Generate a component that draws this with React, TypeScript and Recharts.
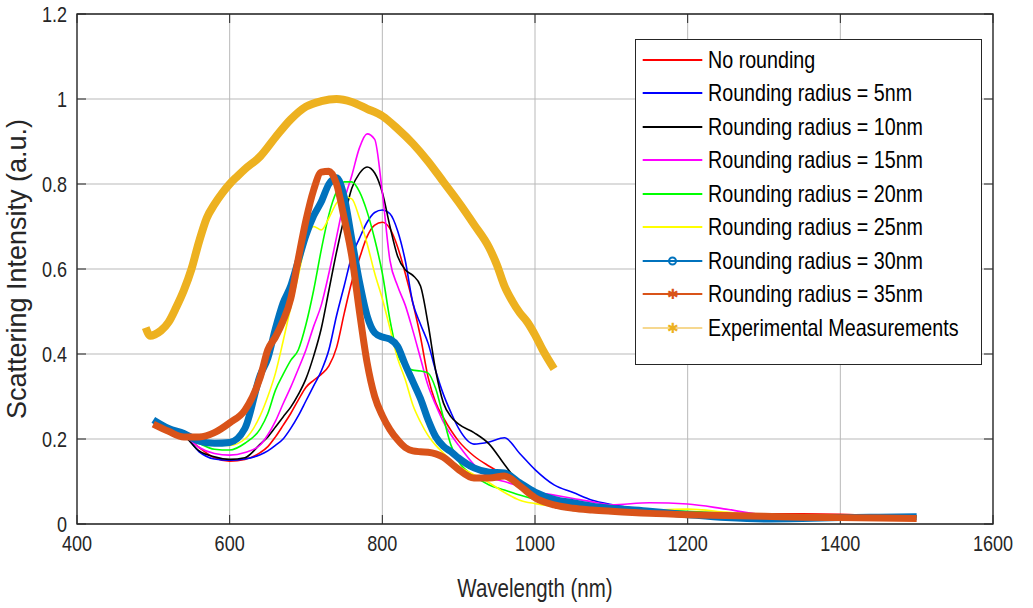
import {
  LineChart,
  Line,
  XAxis,
  YAxis,
  CartesianGrid,
  Legend,
  ReferenceArea,
  ReferenceLine,
} from "recharts"

// simulated spectra share one wavelength grid (nm)
const wavelengths = [
  500, 520, 540, 560, 580, 600, 620, 640,
  650, 660, 670, 680, 690, 700, 710, 720, 730, 740, 750, 760, 770, 780, 790, 800,
  810, 820, 830, 840, 850, 860, 870, 880, 890, 900,
  920, 940, 960, 980, 1000,
  1025, 1050, 1075, 1100,
  1150, 1200, 1250, 1300, 1350, 1400, 1450, 1500,
]

const noRounding = [
  0.24, 0.222, 0.21, 0.18, 0.156, 0.148, 0.152, 0.168,
  0.182, 0.205, 0.232, 0.26, 0.292, 0.322, 0.338, 0.352, 0.372, 0.415, 0.495, 0.57, 0.625, 0.676, 0.703, 0.71,
  0.695, 0.652, 0.59, 0.52, 0.44, 0.345, 0.285, 0.25, 0.22, 0.195,
  0.16, 0.136, 0.115, 0.09, 0.068,
  0.052, 0.043, 0.038, 0.034,
  0.03, 0.027, 0.025, 0.024, 0.024, 0.023, 0.02, 0.018,
]

const radius5 = [
  0.24, 0.222, 0.21, 0.17, 0.153, 0.15, 0.153, 0.163,
  0.172, 0.185, 0.2, 0.225, 0.255, 0.29, 0.325, 0.36, 0.41, 0.49, 0.56, 0.63, 0.672, 0.71, 0.733, 0.739,
  0.73, 0.69, 0.62, 0.52, 0.47, 0.425, 0.36, 0.305, 0.262, 0.225,
  0.188, 0.193, 0.203, 0.166, 0.128,
  0.092, 0.074, 0.056, 0.046,
  0.033, 0.027, 0.023, 0.021, 0.02, 0.019, 0.018, 0.017,
]

const radius10 = [
  0.24, 0.222, 0.208, 0.172, 0.158, 0.152, 0.156, 0.188,
  0.205, 0.228, 0.252, 0.275, 0.305, 0.342, 0.395, 0.46, 0.55, 0.64, 0.72, 0.79, 0.825, 0.84, 0.826, 0.78,
  0.7, 0.63, 0.598, 0.585, 0.56, 0.47, 0.36, 0.285, 0.252, 0.235,
  0.215, 0.188, 0.14, 0.095, 0.066,
  0.05, 0.042, 0.038, 0.034,
  0.03, 0.028, 0.024, 0.022, 0.021, 0.02, 0.019, 0.018,
]

const radius15 = [
  0.24, 0.222, 0.21, 0.18, 0.166, 0.162, 0.168, 0.186,
  0.21, 0.242, 0.283, 0.322, 0.365, 0.41, 0.465, 0.515, 0.59, 0.675, 0.76, 0.82, 0.885, 0.918, 0.905, 0.78,
  0.62, 0.56, 0.515, 0.455, 0.39, 0.325, 0.28, 0.24, 0.21, 0.185,
  0.14, 0.11, 0.1, 0.088, 0.076,
  0.068, 0.06, 0.052, 0.045,
  0.05, 0.047, 0.035, 0.022, 0.02, 0.019, 0.018, 0.017,
]

const radius20 = [
  0.24, 0.222, 0.21, 0.19, 0.176, 0.174, 0.19, 0.224,
  0.26, 0.315, 0.352, 0.385, 0.41, 0.47, 0.55, 0.645, 0.728, 0.782, 0.805, 0.805, 0.782, 0.735, 0.67, 0.59,
  0.48, 0.4, 0.37, 0.362, 0.36, 0.355, 0.318, 0.25, 0.185, 0.147,
  0.113, 0.092, 0.08, 0.068, 0.058,
  0.048, 0.042, 0.038, 0.036,
  0.033, 0.03, 0.025, 0.021, 0.02, 0.019, 0.018, 0.017,
]

const radius25 = [
  0.24, 0.222, 0.21, 0.196, 0.188, 0.185, 0.2, 0.255,
  0.3, 0.355, 0.43, 0.51, 0.585, 0.665, 0.7, 0.692, 0.72, 0.755, 0.77, 0.765, 0.72, 0.66, 0.59, 0.53,
  0.46, 0.39, 0.34, 0.28, 0.24, 0.208, 0.185, 0.167, 0.15, 0.136,
  0.116, 0.097, 0.074, 0.056, 0.048,
  0.042, 0.038, 0.035, 0.034,
  0.033, 0.035, 0.028, 0.02, 0.019, 0.018, 0.017, 0.016,
]

const radius30 = [
  0.245, 0.225, 0.213, 0.195, 0.19, 0.192, 0.225, 0.35,
  0.39, 0.46, 0.52, 0.56, 0.62, 0.68, 0.725, 0.758, 0.8, 0.815, 0.77, 0.67, 0.57, 0.49, 0.45, 0.44,
  0.435, 0.418, 0.375, 0.335, 0.295, 0.245, 0.205, 0.183, 0.17, 0.155,
  0.132, 0.122, 0.12, 0.097, 0.075,
  0.058, 0.05, 0.042, 0.037,
  0.03, 0.022, 0.015, 0.012, 0.013, 0.015, 0.016, 0.017,
]

const radius35 = [
  0.235, 0.218, 0.205, 0.205, 0.215, 0.238, 0.268, 0.345,
  0.41, 0.44, 0.478, 0.53, 0.625, 0.715, 0.786, 0.828, 0.83, 0.8, 0.72, 0.63, 0.5, 0.38, 0.3, 0.255,
  0.222, 0.198, 0.18, 0.172, 0.17, 0.169, 0.165, 0.157, 0.143, 0.128,
  0.108, 0.108, 0.113, 0.09, 0.062,
  0.045, 0.037, 0.033, 0.03,
  0.025, 0.022, 0.02, 0.018, 0.016, 0.015, 0.014, 0.013,
]

// experimental measurement has its own wavelength sampling
const expWavelengths = [
  490, 496, 502, 510, 520, 530, 540, 550, 560, 570, 580, 590, 600, 610, 620, 640, 660, 680,
  700, 720, 740, 760, 780, 800, 820, 840, 860, 880, 900, 920, 940, 950, 960, 970, 980, 990,
  1000, 1010, 1025,
]
const expIntensity = [
  0.462, 0.443, 0.446, 0.455, 0.475, 0.51, 0.55, 0.6, 0.665, 0.72, 0.752, 0.778, 0.8, 0.818, 0.835, 0.865, 0.91, 0.952,
  0.982, 0.995, 1.0, 0.993, 0.977, 0.96, 0.93, 0.895, 0.853, 0.805, 0.757, 0.705, 0.65, 0.61, 0.56, 0.525, 0.497, 0.475,
  0.445, 0.41, 0.365,
]

const seriesLabels = [
  "No rounding",
  "Rounding radius = 5nm",
  "Rounding radius = 10nm",
  "Rounding radius = 15nm",
  "Rounding radius = 20nm",
  "Rounding radius = 25nm",
  "Rounding radius = 30nm",
  "Rounding radius = 35nm",
  "Experimental Measurements",
]

const xTicks = [400, 600, 800, 1000, 1200, 1400, 1600]
const yTicks = [0, 0.2, 0.4, 0.6, 0.8, 1, 1.2]

const simSeries = [noRounding, radius5, radius10, radius15, radius20, radius25, radius30, radius35]
const simKeys = ["r0", "r5", "r10", "r15", "r20", "r25", "r30", "r35"]

const simTable = wavelengths.map((w, i) => {
  const row: Record<string, number> = { w }
  simKeys.forEach((k, j) => {
    row[k] = simSeries[j][i]
  })
  return row
})

const expTable = expWavelengths.map((w, i) => ({ w, exp: expIntensity[i] }))

// drawing styles, in legend order
const styles = [
  { key: "r0", color: "#ff0000", width: 1.6, legendWidth: 2, marker: "none" },
  { key: "r5", color: "#0000ff", width: 1.6, legendWidth: 2, marker: "none" },
  { key: "r10", color: "#000000", width: 1.6, legendWidth: 2, marker: "none" },
  { key: "r15", color: "#ff00ff", width: 1.6, legendWidth: 2, marker: "none" },
  { key: "r20", color: "#00ff00", width: 1.6, legendWidth: 2, marker: "none" },
  { key: "r25", color: "#ffff00", width: 1.6, legendWidth: 2, marker: "none" },
  { key: "r30", color: "#0072bd", width: 7, legendWidth: 2, marker: "circle" },
  { key: "r35", color: "#d95319", width: 7, legendWidth: 2, marker: "star" },
  { key: "exp", color: "#edb120", width: 8, legendWidth: 1, marker: "star" },
]

const FONT = "'Liberation Sans', Arial, Helvetica, sans-serif"
const SQUEEZE = 0.82 // the reference's horizontal text is condensed
const INK = "#262626"

const X_TICK_LEN = (1200 * 9) / 916
const Y_TICK_LEN = (1.2 * 9) / 510

const XTick = ({ x, y, payload }: any) => (
  <g transform={`translate(${x},${y})`}>
    <text transform={`scale(${SQUEEZE},1)`} textAnchor="middle" dy="0.71em" fontSize={22} fill={INK} fontFamily={FONT}>
      {payload.value}
    </text>
  </g>
)

const YTick = ({ x, y, payload }: any) => (
  <g transform={`translate(${x},${y})`}>
    <text transform={`scale(${SQUEEZE},1)`} textAnchor="end" dy="0.355em" fontSize={22} fill={INK} fontFamily={FONT}>
      {String(Math.round(payload.value * 10) / 10)}
    </text>
  </g>
)

const XLabel = ({ viewBox }: any) => {
  const cx = viewBox.x + viewBox.width / 2
  const by = viewBox.y + viewBox.height - 11
  return (
    <g transform={`translate(${cx},${by})`}>
      <text transform={`scale(${SQUEEZE},1)`} textAnchor="middle" fontSize={25} fill={INK} fontFamily={FONT}>
        Wavelength (nm)
      </text>
    </g>
  )
}

function LegendBox() {
  return (
    <div
      style={{
        width: 347,
        height: 326,
        boxSizing: "border-box",
        border: "1px solid #262626",
        background: "#ffffff",
        paddingTop: 3,
        fontFamily: FONT,
        fontSize: 24,
        color: "#000",
      }}
    >
      {styles.map((s, i) => (
        <div key={s.key} style={{ display: "flex", alignItems: "center", height: 33.5, whiteSpace: "nowrap" }}>
          <svg width={72} height={20} style={{ flex: "none" }}>
            <line x1={6.7} x2={66.3} y1={10} y2={10} stroke={s.color} strokeWidth={s.legendWidth} />
            {s.marker === "circle" && (
              <circle cx={36.5} cy={10} r={3.5} fill="none" stroke={s.color} strokeWidth={2} />
            )}
            {s.marker === "star" && (
              <text x={36.5} y={15} textAnchor="middle" fontSize={14} fill={s.color} fontFamily={FONT}>
                ✱
              </text>
            )}
          </svg>
          <span
            style={{
              display: "inline-block",
              lineHeight: "24px",
              transform: `scaleX(${SQUEEZE})`,
              transformOrigin: "left center",
            }}
          >
            {seriesLabels[i]}
          </span>
        </div>
      ))}
    </div>
  )
}

export default function App() {
  return (
    <div style={{ position: "absolute", left: 0, top: 0, width: 1033, height: 608, background: "#ffffff" }}>
      <LineChart
        width={1033}
        height={608}
        data={simTable}
        margin={{ top: 14, right: 40, bottom: 0, left: 0 }}
      >
        <CartesianGrid stroke="#b9b9b9" strokeWidth={1} />
        <XAxis
          dataKey="w"
          type="number"
          domain={[400, 1600]}
          ticks={xTicks}
          height={84}
          axisLine={false}
          tickLine={false}
          tickSize={0}
          tickMargin={11}
          tick={<XTick />}
          label={<XLabel />}
        />
        <YAxis
          type="number"
          domain={[0, 1.2]}
          ticks={yTicks}
          width={77}
          axisLine={false}
          tickLine={false}
          tickSize={0}
          tickMargin={10}
          tick={<YTick />}
          label={{
            value: "Scattering Intensity (a.u.)",
            angle: -90,
            position: "insideLeft",
            offset: 16,
            style: { textAnchor: "middle", fontSize: 27, fill: INK, fontFamily: FONT },
          }}
        />
        {xTicks.map((t) => (
          <ReferenceLine
            key={"xb" + t}
            segment={[{ x: t, y: 0 }, { x: t, y: Y_TICK_LEN }]}
            stroke={INK}
            ifOverflow="visible"
          />
        ))}
        {xTicks.map((t) => (
          <ReferenceLine
            key={"xt" + t}
            segment={[{ x: t, y: 1.2 }, { x: t, y: 1.2 - Y_TICK_LEN }]}
            stroke={INK}
            ifOverflow="visible"
          />
        ))}
        {yTicks.map((t) => (
          <ReferenceLine
            key={"yl" + t}
            segment={[{ x: 400, y: t }, { x: 400 + X_TICK_LEN, y: t }]}
            stroke={INK}
            ifOverflow="visible"
          />
        ))}
        {yTicks.map((t) => (
          <ReferenceLine
            key={"yr" + t}
            segment={[{ x: 1600, y: t }, { x: 1600 - X_TICK_LEN, y: t }]}
            stroke={INK}
            ifOverflow="visible"
          />
        ))}
        {styles.slice(0, 8).map((s) => (
          <Line
            key={s.key}
            type="monotone"
            dataKey={s.key}
            stroke={s.color}
            strokeWidth={s.width}
            dot={false}
            activeDot={false}
            isAnimationActive={false}
          />
        ))}
        <Line
          data={expTable}
          type="monotone"
          dataKey="exp"
          stroke="#edb120"
          strokeWidth={8}
          dot={false}
          activeDot={false}
          isAnimationActive={false}
        />
        <ReferenceArea
          x1={400}
          x2={1600}
          y1={0}
          y2={1.2}
          fill="none"
          stroke={INK}
          strokeWidth={1.3}
          ifOverflow="visible"
        />
        <Legend
          layout="horizontal"
          verticalAlign="middle"
          align="center"
          content={<LegendBox />}
          wrapperStyle={{ left: 635, top: 39, width: 347, height: 326 }}
        />
      </LineChart>
    </div>
  )
}
